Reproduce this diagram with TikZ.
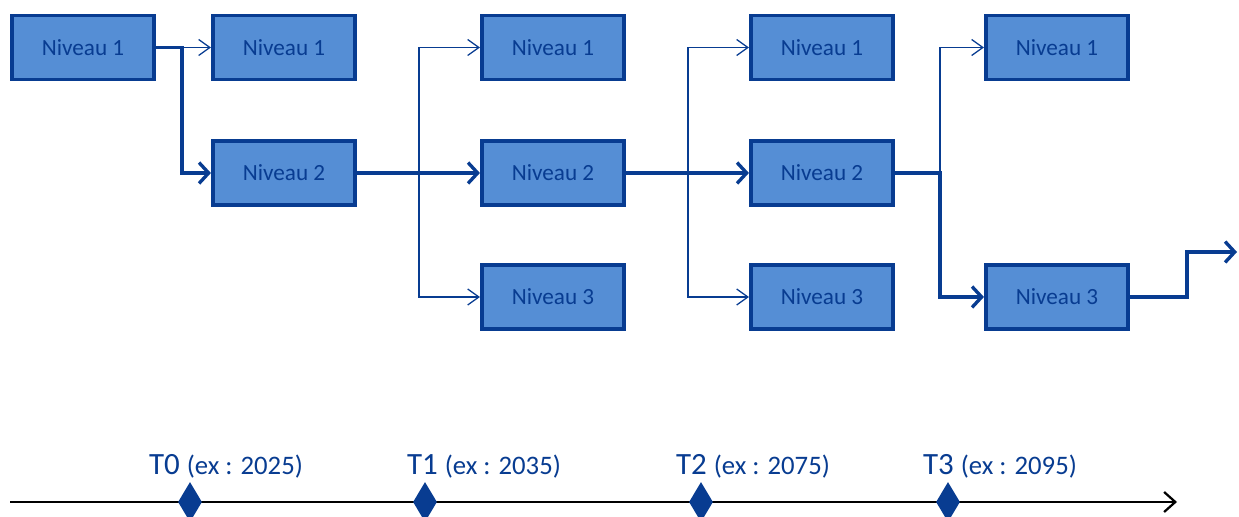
\documentclass[tikz,border=0pt]{standalone}
\usepackage{fontspec}
\setmainfont{Carlito}
\usetikzlibrary{arrows.meta}
\usetikzlibrary{shapes.geometric}
\definecolor{niveaufill}{RGB}{85,142,213}
\definecolor{niveaublue}{RGB}{8,60,145}

\begin{document}
\begin{tikzpicture}[x=0.025cm,y=-0.025cm]
  \tikzset{niveau/.style = {shape=rectangle,draw=niveaublue,fill=niveaufill,line width=2.6pt,minimum width=3.56cm,minimum height=1.6cm,text=niveaublue,font=\fontsize{16.5}{20}\selectfont}}
  \tikzset{mainlink/.style = {draw=niveaublue,line width=2.4pt,-{Straight Barb[length=2.4mm,width=5.2mm]}}}
  \tikzset{sidelink/.style = {draw=niveaublue,line width=0.9pt,-{Straight Barb[length=2.8mm,width=4mm]}}}
  \tikzset{jalon/.style = {shape=diamond,fill=niveaublue,inner sep=0pt,minimum width=0.6cm,minimum height=1cm}}

  \useasboundingbox (0,0) rectangle (1239,517);

	\node[niveau] (A1) at (83,47.5) {Niveau 1};
	\node[niveau] (B1) at (284,47.5) {Niveau 1};
	\node[niveau] (B2) at (284,173) {Niveau 2};
	\node[niveau] (C1) at (553,47.5) {Niveau 1};
	\node[niveau] (C2) at (553,173) {Niveau 2};
	\node[niveau] (C3) at (553,297) {Niveau 3};
	\node[niveau] (D1) at (822,47.5) {Niveau 1};
	\node[niveau] (D2) at (822,173) {Niveau 2};
	\node[niveau] (D3) at (822,297) {Niveau 3};
	\node[niveau] (E1) at (1057,47.5) {Niveau 1};
	\node[niveau] (E3) at (1057,297) {Niveau 3};

	\coordinate (J1) at (182,47.5);
	\coordinate (J2) at (419,173);
	\coordinate (J3) at (688,173);
	\coordinate (J4) at (940,173);
	\coordinate (K) at (1187,297);
	\coordinate (Out) at (1237,252);

	\draw[sidelink] (J1) -- (B1.west);
	\foreach \from/\to in {J2/C1, J2/C3, J3/D1, J3/D3, J4/E1}
    \draw[sidelink] (\from) |- (\to.west);

	\draw[mainlink] (A1.east) -- (J1) |- (B2.west);
	\draw[mainlink] (B2.east) -- (C2.west);
	\draw[mainlink] (C2.east) -- (D2.west);
	\draw[mainlink] (D2.east) -- (J4) |- (E3.west);
	\draw[mainlink] (E3.east) -- (K) |- (Out);

	\coordinate (T) at (10,502);
	\coordinate (Tend) at (1177,502);
	\draw[line width=1.6pt,-{Straight Barb[length=2.8mm,width=5mm]}] (T) -- (Tend);

       \foreach \n/\x/\lx/\an in {0/190/226/2025, 1/425/484/2035, 2/701/753/2075, 3/948/1000/2095}
    {
	\node[jalon] (M\n) at (\x,502) {};
	\node[anchor=base,text=niveaublue,inner sep=0pt] (L\n) at (\lx,475) {\fontsize{22}{26}\selectfont T\n{} \fontsize{19}{23}\selectfont(ex : \an)};
    }
\end{tikzpicture}
\end{document}
